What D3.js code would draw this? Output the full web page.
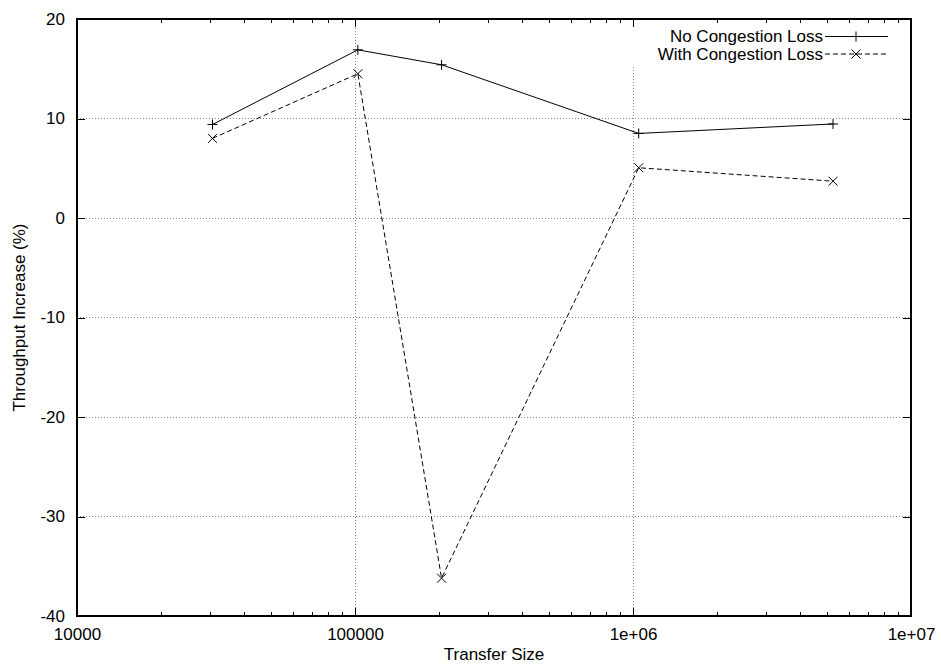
<!DOCTYPE html>
<html>
<head>
<meta charset="utf-8">
<script src="https://cdn.jsdelivr.net/npm/d3@7"></script>
<style>
  body { margin: 0; background: #fff; }
  text { font-family: "Liberation Sans", Arial, sans-serif; font-size: 17px; fill: #000; }
</style>
</head>
<body>
<div id="chart"></div>
<script>
// transfer sizes (bytes) and throughput increase (%)
var sizes = [30720, 102400, 204800, 1048576, 5242880];
var noLoss = [9.4, 16.9, 15.4, 8.5, 9.45];
var withLoss = [8.0, 14.5, -36.2, 5.05, 3.7];
var seriesNames = ["No Congestion Loss", "With Congestion Loss"];
var yTicks = [20, 10, 0, -10, -20, -30, -40];
var xTicks = [1e4, 1e5, 1e6, 1e7];
var xTickLabels = ["10000", "100000", "1e+06", "1e+07"];

var width = 941, height = 664;
var margin = {top: 19, right: 30, bottom: 48, left: 77};
var w = width - margin.left - margin.right,
    h = height - margin.top - margin.bottom;

var svg = d3.select("#chart").append("svg")
    .attr("width", width)
    .attr("height", height);

var g = svg.append("g")
    .attr("transform", "translate(" + margin.left + "," + margin.top + ")");

var x = d3.scaleLog().domain([1e4, 1e7]).range([0, w]);
var y = d3.scaleLinear().domain([-40, 20]).range([h, 0]);

// grid
var gridStyle = function(sel) {
    sel.attr("stroke", "#888").attr("stroke-width", 1)
       .attr("stroke-dasharray", "1,2").attr("shape-rendering", "crispEdges");
};
g.selectAll(".hgrid").data(yTicks.filter(function(d) { return d > -40 && d < 20; }))
    .enter().append("line")
    .attr("x1", 0).attr("x2", w)
    .attr("y1", function(d) { return y(d); }).attr("y2", function(d) { return y(d); })
    .call(gridStyle);
g.selectAll(".vgrid").data(xTicks.filter(function(d) { return d > 1e4 && d < 1e7; }))
    .enter().append("line")
    .attr("y1", 0).attr("y2", h)
    .attr("x1", function(d) { return x(d); }).attr("x2", function(d) { return x(d); })
    .call(gridStyle);

// legend background erases grid behind it
g.append("rect")
    .attr("x", 545).attr("y", 2).attr("width", w - 548).attr("height", 44)
    .attr("fill", "#fff");

// axes (gnuplot style, ticks inward, mirrored)
var minor = [];
[1e4, 1e5, 1e6].forEach(function(dec) {
    for (var k = 2; k <= 9; k++) minor.push(dec * k);
});

var xBottom = d3.axisBottom(x).tickValues(xTicks).tickSize(-8).tickFormat(function(d, i) { return xTickLabels[i]; }).tickPadding(12);
var xTop = d3.axisTop(x).tickValues(xTicks).tickSize(-8).tickFormat("");
var xBottomMinor = d3.axisBottom(x).tickValues(minor).tickSize(-4).tickFormat("");
var xTopMinor = d3.axisTop(x).tickValues(minor).tickSize(-4).tickFormat("");
var yLeft = d3.axisLeft(y).tickValues(yTicks).tickSize(-8).tickPadding(12).tickFormat(function(d) { return String(d); });
var yRight = d3.axisRight(y).tickValues(yTicks).tickSize(-8).tickFormat("");

function styleAxis(sel) {
    sel.select(".domain").remove();
    sel.selectAll(".tick line").attr("stroke", "#000").attr("shape-rendering", "crispEdges");
    sel.selectAll("text").attr("font-size", 17).attr("font-family", "Liberation Sans, Arial, sans-serif");
}

g.append("g").attr("transform", "translate(0," + h + ")").call(xBottom).call(styleAxis);
g.append("g").call(xTop).call(styleAxis);
g.append("g").attr("transform", "translate(0," + h + ")").call(xBottomMinor).call(styleAxis);
g.append("g").call(xTopMinor).call(styleAxis);
g.append("g").call(yLeft).call(styleAxis);
g.append("g").attr("transform", "translate(" + w + ",0)").call(yRight).call(styleAxis);

// frame
g.append("rect")
    .attr("x", 0).attr("y", 0).attr("width", w).attr("height", h)
    .attr("fill", "none").attr("stroke", "#000").attr("stroke-width", 1.5)
    .attr("shape-rendering", "crispEdges");

// axis titles
svg.append("text")
    .attr("x", margin.left + w / 2).attr("y", 660)
    .attr("text-anchor", "middle")
    .text("Transfer Size");
svg.append("text")
    .attr("transform", "translate(25," + (margin.top + h / 2) + ") rotate(-90)")
    .attr("text-anchor", "middle")
    .text("Throughput Increase (%)");

// series
var line = d3.line()
    .x(function(d) { return x(d[0]); })
    .y(function(d) { return y(d[1]); });

var s1 = sizes.map(function(s, i) { return [s, noLoss[i]]; });
var s2 = sizes.map(function(s, i) { return [s, withLoss[i]]; });

g.append("path").datum(s1).attr("d", line)
    .attr("fill", "none").attr("stroke", "#000").attr("stroke-width", 1);
g.append("path").datum(s2).attr("d", line)
    .attr("fill", "none").attr("stroke", "#000").attr("stroke-width", 1)
    .attr("stroke-dasharray", "5,3");

var plus = function(cx, cy, r) {
    return "M" + (cx - r) + "," + cy + "H" + (cx + r) + "M" + cx + "," + (cy - r) + "V" + (cy + r);
};
var cross = function(cx, cy, r) {
    return "M" + (cx - r) + "," + (cy - r) + "L" + (cx + r) + "," + (cy + r) +
           "M" + (cx - r) + "," + (cy + r) + "L" + (cx + r) + "," + (cy - r);
};

g.selectAll(".p1").data(s1).enter().append("path")
    .attr("d", function(d) { return plus(x(d[0]), y(d[1]), 5); })
    .attr("stroke", "#000").attr("fill", "none");
g.selectAll(".p2").data(s2).enter().append("path")
    .attr("d", function(d) { return cross(x(d[0]), y(d[1]), 4.5); })
    .attr("stroke", "#000").attr("fill", "none");

// legend
var legend = g.append("g");
var rows = [
    {name: seriesNames[0], dash: null, marker: plus},
    {name: seriesNames[1], dash: "5,3", marker: cross}
];
rows.forEach(function(r, i) {
    var ly = 17.5 + i * 17.5;
    legend.append("text")
        .attr("x", 746).attr("y", ly).attr("dy", "0.35em")
        .attr("text-anchor", "end")
        .text(r.name);
    legend.append("line")
        .attr("x1", 748).attr("x2", 811).attr("y1", ly).attr("y2", ly)
        .attr("stroke", "#000").attr("stroke-dasharray", r.dash);
    legend.append("path")
        .attr("d", r.marker(779, ly, i === 0 ? 5 : 4.5))
        .attr("stroke", "#000").attr("fill", "none");
});
</script>
</body>
</html>
